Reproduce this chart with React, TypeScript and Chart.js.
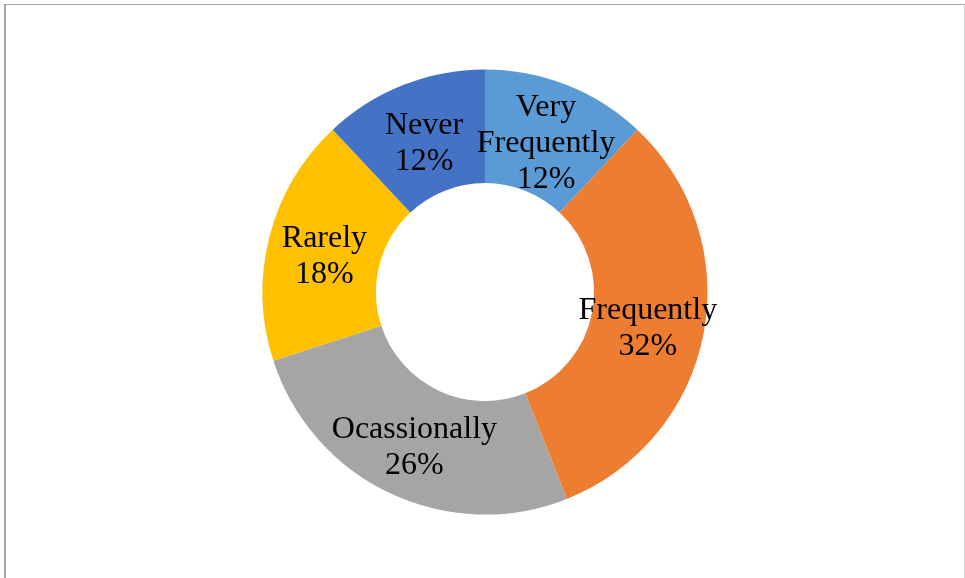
import React, { useEffect, useRef } from "react";
import { Chart, registerables } from "chart.js";

Chart.register(...registerables);

const categories: (string | string[])[] = [
  ["Very", "Frequently"],
  "Frequently",
  "Ocassionally",
  "Rarely",
  "Never",
];
const values = [12, 32, 26, 18, 12];
const percentLabels = ["12%", "32%", "26%", "18%", "12%"];
const colors = ["#5B9BD5", "#ED7D31", "#A5A5A5", "#FFC000", "#4472C4"];

const labelPlugin = {
  id: "sliceLabels",
  afterDatasetsDraw(chart: any) {
    const ctx = chart.ctx;
    const meta = chart.getDatasetMeta(0);
    ctx.save();
    ctx.font = '32px "Liberation Serif", "Times New Roman", serif';
    ctx.fillStyle = "#000000";
    ctx.textAlign = "center";
    ctx.textBaseline = "middle";
    const lineH = 36;
    meta.data.forEach((arc: any, i: number) => {
      const p = arc.getCenterPoint();
      const cat = categories[i];
      const lines = (Array.isArray(cat) ? cat : [cat]).concat([percentLabels[i]]);
      const startY = p.y + 6 - ((lines.length - 1) * lineH) / 2;
      lines.forEach((ln, j) => {
        ctx.fillText(ln, p.x, startY + j * lineH);
      });
    });
    ctx.restore();
  },
};

export default function App() {
  const ref = useRef<HTMLCanvasElement | null>(null);

  useEffect(() => {
    if (!ref.current) return;
    const chart = new Chart(ref.current, {
      type: "doughnut",
      data: {
        labels: categories as any,
        datasets: [
          {
            data: values,
            backgroundColor: colors,
            borderWidth: 0,
          },
        ],
      },
      options: {
        animation: false,
        responsive: false,
        cutout: "49%",
        layout: {
          padding: { top: 69.5, bottom: 63.5, left: 262.5, right: 257.5 },
        },
        plugins: {
          legend: { display: false },
          tooltip: { enabled: false },
        },
      },
      plugins: [labelPlugin],
    });
    return () => chart.destroy();
  }, []);

  return (
    <div style={{ position: "absolute", left: 0, top: 0, width: 965, height: 578, background: "#fff", overflow: "hidden" }}>
      <div
        style={{
          position: "absolute",
          left: 4,
          top: 4,
          width: 961,
          height: 574,
          boxSizing: "border-box",
          borderTop: "1px solid #a6a6a6",
          borderLeft: "2px solid #a6a6a6",
          borderRight: "1px solid #d0d0d0",
        }}
      />
      <canvas
        ref={ref}
        width={965}
        height={578}
        style={{ position: "absolute", left: 0, top: 0, width: 965, height: 578 }}
      />
    </div>
  );
}
